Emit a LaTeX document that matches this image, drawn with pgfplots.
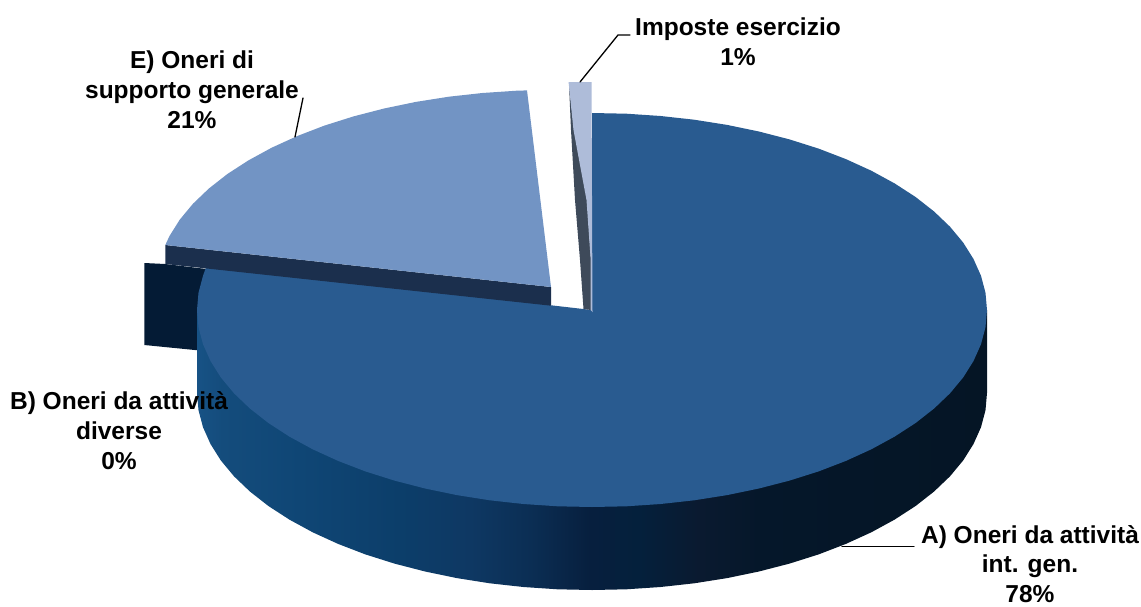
\documentclass[border=0pt]{standalone}
\usepackage{pgfplots}
\pgfplotsset{compat=1.18}
\usepackage{fontspec}
\setmainfont{Liberation Sans}
\definecolor{faceA}{HTML}{295B90}
\definecolor{faceE}{HTML}{7294C4}
\definecolor{faceI}{HTML}{AEBCD9}
\definecolor{wallE}{HTML}{1B2F4D}
\definecolor{wallI}{HTML}{3E4A5A}
\definecolor{wallB}{HTML}{041B35}
\definecolor{w1}{HTML}{175285}
\definecolor{w2}{HTML}{144C7C}
\definecolor{w3}{HTML}{0F4675}
\definecolor{w4}{HTML}{0C3E6A}
\definecolor{w5}{HTML}{0E3863}
\definecolor{w6}{HTML}{0B2E54}
\definecolor{w7}{HTML}{071F3E}
\definecolor{w8}{HTML}{04203C}
\definecolor{w9}{HTML}{0A1A30}
\definecolor{w10}{HTML}{05172A}
\definecolor{w11}{HTML}{051525}
\pgfdeclarehorizontalshading{wallshade}{100bp}{color(0bp)=(w1); color(25bp)=(w1); color(26.6bp)=(w2); color(31.5bp)=(w3); color(37.8bp)=(w4); color(42.3bp)=(w5); color(46.1bp)=(w6); color(49.9bp)=(w7); color(53bp)=(w8); color(56.8bp)=(w9); color(60.6bp)=(w10); color(75bp)=(w11); color(100bp)=(w11)}
\begin{document}
\begin{tikzpicture}
\begin{axis}[
  name=chart,
  width=1141pt, height=606pt, scale only axis,
  xmin=0, xmax=1141, ymin=0, ymax=606, y dir=reverse,
  axis lines=none, clip=false, no markers,
  every axis plot/.append style={line cap=round}
]
% slice B: thin exploded wall
\addplot[fill=wallB, draw=none] coordinates {(144.3,263) (165.3,264) (215,270) (215,352) (144.3,345)} -- cycle;
% wall of slice A
\addplot[draw=none, shading=wallshade, shading angle=0] coordinates {
(987,310) (987,393) (985.5,410.2) (981,427.2) (973.5,444) (963.2,460.4) (950,476.3) (934.1,491.5)
(915.6,506) (894.6,519.6) (871.3,532.3) (845.9,543.9) (818.6,554.4) (789.5,563.6) (758.9,571.5)
(727.1,578.1) (694.2,583.3) (660.6,587) (626.4,589.3) (592,590) (557.6,589.3) (523.4,587) (489.8,583.3)
(456.9,578.1) (425.1,571.5) (394.5,563.6) (365.4,554.4) (338.1,543.9) (312.7,532.3) (289.4,519.6)
(268.4,506) (249.9,491.5) (234,476.3) (220.8,460.4) (210.5,444) (203,427.2) (198.5,410.2) (197,393) (197,310)
} -- cycle;
% leader of label A
\addplot[black, line width=1.3pt] coordinates {(842,546.7) (914,546.7)};
% top face of slice A
\addplot[fill=faceA, draw=none] coordinates {
(592,113) (626.4,113.7) (660.6,116) (694.2,119.7) (727.1,124.9) (758.9,131.5) (789.5,139.4) (818.6,148.6)
(845.9,159.1) (871.3,170.7) (894.6,183.4) (915.6,197) (934.1,211.5) (950,226.7) (963.2,242.6) (973.5,259)
(981,275.8) (985.5,292.8) (987,310) (985.5,327.2) (981,344.2) (973.5,361) (963.2,377.4) (950,393.3)
(934.1,408.5) (915.6,423) (894.6,436.6) (871.3,449.3) (845.9,460.9) (818.6,471.4) (789.5,480.6) (758.9,488.5)
(727.1,495.1) (694.2,500.3) (660.6,504) (626.4,506.3) (592,507) (557.6,506.3) (523.4,504) (489.8,500.3)
(456.9,495.1) (425.1,488.5) (394.5,480.6) (365.4,471.4) (338.1,460.9) (312.7,449.3) (289.4,436.6) (268.4,423)
(249.9,408.5) (234,393.3) (220.8,377.4) (210.5,361) (203,344.2) (198.5,327.2) (197,310) (198.5,292.8) (203,275.8)
(206.6,265.7) (592,310)
} -- cycle;
% slice E wall and top
\addplot[fill=wallE, draw=none] coordinates {(165.3,245) (551,287) (551,305.7) (165.3,264)} -- cycle;
\addplot[fill=faceE, draw=none] coordinates {
(551,287) (165.3,245) (169.5,236) (179.8,219.6) (193,203.7) (208.9,188.5) (227.4,174) (248.4,160.4)
(271.7,147.7) (297.1,136.1) (324.4,125.6) (353.5,116.4) (384.1,108.5) (415.9,101.9) (448.8,96.7)
(482.4,93) (516.6,90.7) (527,90.4)
} -- cycle;
% Imposte wall and top
\addplot[fill=wallI, draw=none] coordinates {(569,84) (574,130) (587,200) (591,260) (591,310) (583.5,309) (580,260) (575,200) (571,130)} -- cycle;
\addplot[fill=faceI, draw=none] coordinates {(568.5,82) (591.5,82) (592.5,312) (590.7,310) (590.7,260) (586.5,200) (573.5,130) (569,86)} -- cycle;
% leaders
\addplot[black, line width=1.3pt] coordinates {(580,82) (618,35) (630,35)};
\addplot[black, line width=1.3pt] coordinates {(295,137) (303,98)};
% labels
\node[align=center, font=\fontsize{24.5}{30}\selectfont\bfseries] at (axis cs:738,42) {Imposte esercizio\\1\%};
\node[align=center, font=\fontsize{24.5}{30}\selectfont\bfseries] at (axis cs:192,90) {E) Oneri di\\supporto generale\\21\%};
\node[align=center, font=\fontsize{24.5}{30}\selectfont\bfseries] at (axis cs:119,431) {B) Oneri da attività\\diverse\\0\%};
\node[align=center, inner sep=0pt, font=\fontsize{24.5}{29.5}\selectfont\bfseries] at (axis cs:1030,564) {A) Oneri da attività\\int. gen.\\78\%};
\end{axis}
\pgfresetboundingbox
\path[use as bounding box] (chart.south west) rectangle (chart.north east);
\end{tikzpicture}
\end{document}
